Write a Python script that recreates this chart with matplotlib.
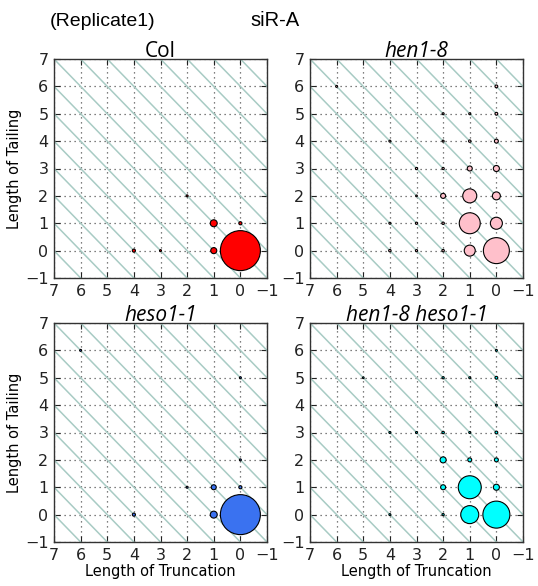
import numpy as np
import matplotlib
matplotlib.use("Agg")
import matplotlib.pyplot as plt

# percent of reads at each (truncation, tailing) position
col_trunc = [0, 1, 1, 0, 4, 3, 2]
col_tail = [0, 1, 0, 1, 0, 0, 2]
col_pct = [82.9, 2.5, 1.9, 0.5, 0.5, 0.2, 0.2]

hen1_trunc = [0, 1, 1, 0, 1, 0, 2, 1, 0, 0, 1, 2, 4, 0, 1, 2, 0, 6, 3, 2, 3, 4, 3, 2, 4, 3, 2]
hen1_tail = [0, 0, 1, 1, 2, 2, 2, 3, 3, 4, 4, 4, 4, 5, 5, 5, 6, 6, 3, 3, 2, 1, 1, 1, 0, 0, 0]
hen1_pct = [35.0, 6.3, 22.8, 7.5, 10.2, 3.3, 1.3, 1.3, 1.9, 0.8, 0.3, 0.2, 0.2,
            0.4, 0.2, 0.2, 0.4, 0.2, 0.25, 0.25, 0.15, 0.2, 0.25, 0.3, 0.3, 0.25, 0.3]

heso1_trunc = [0, 1, 1, 0, 4, 2, 0, 0, 6]
heso1_tail = [0, 0, 1, 1, 0, 1, 2, 5, 6]
heso1_pct = [82.9, 2.5, 1.3, 0.5, 0.5, 0.2, 0.2, 0.2, 0.2]

double_trunc = [0, 1, 1, 0, 2, 2, 1, 0, 2, 0, 1, 2, 3, 4, 0, 0, 1, 2, 5, 0, 4]
double_tail = [0, 0, 1, 1, 1, 2, 2, 2, 0, 3, 3, 3, 3, 3, 4, 5, 5, 5, 5, 6, 0]
double_pct = [37.8, 16.8, 27.4, 1.9, 1.3, 1.9, 0.8, 0.8, 0.25, 0.4, 0.2, 0.3, 0.2,
              0.2, 0.2, 0.4, 0.2, 0.25, 0.15, 0.2, 0.2]

titles = ["Col", "hen1-8", "heso1-1", "hen1-8 heso1-1"]
colors = ["#ff0000", "#ffc0cb", "#3a72f0", "#00ffff"]
panels = [
    (col_trunc, col_tail, col_pct),
    (hen1_trunc, hen1_tail, hen1_pct),
    (heso1_trunc, heso1_tail, heso1_pct),
    (double_trunc, double_tail, double_pct),
]

fig = plt.figure(figsize=(5.38, 5.86), dpi=100)
fig.patch.set_facecolor("white")

W, H = 538.0, 586.0
boxes = [(54, 59), (310, 59), (54, 323), (310, 323)]
aw, ah = 213, 219

for i, ((tx, ty, pct), title, color) in enumerate(zip(panels, titles, colors)):
    left, top = boxes[i]
    ax = fig.add_axes([left / W, 1 - (top + ah) / H, aw / W, ah / H])

    # equal-length diagonals
    xs = np.array([-2, 9])
    for c in range(-10, 11):
        ax.plot(xs, xs + c, color="#a8cbc4", lw=1.1, zorder=1)

    ax.grid(True, color="#555555", linestyle=(0, (1, 3)), linewidth=0.9, zorder=2)
    ax.set_axisbelow(True)

    ax.scatter(tx, ty, s=np.array(pct) * 10, c=color, edgecolors="black",
               linewidths=0.8, zorder=3)

    ax.set_xlim(7, -1)
    ax.set_ylim(-1, 7)
    ax.set_xticks(range(-1, 8))
    ax.set_yticks(range(-1, 8))
    ax.tick_params(direction="in", length=4, width=0.8, labelsize=11.5,
                   top=True, right=True, pad=4, colors="#222222")
    for sp in ax.spines.values():
        sp.set_color("#333333")
        sp.set_linewidth(1.0)

    style = "normal" if title == "Col" else "italic"
    ax.set_title(title, fontsize=15, family="Open Sans", style=style, pad=1.5)
    if i in (0, 2):
        ax.set_ylabel("Length of Tailing", fontsize=10.5, labelpad=2)
    if i in (2, 3):
        ax.set_xlabel("Length of Truncation", fontsize=10.5, labelpad=1)

fig.text(50 / W, 1 - 26 / H, "(Replicate1)", fontsize=14,
         family="Liberation Sans", va="baseline", ha="left")
fig.text(250 / W, 1 - 26 / H, "siR-A", fontsize=14.5,
         family="Liberation Sans", va="baseline", ha="left")

fig.savefig("out.png", dpi=100, facecolor="white")
